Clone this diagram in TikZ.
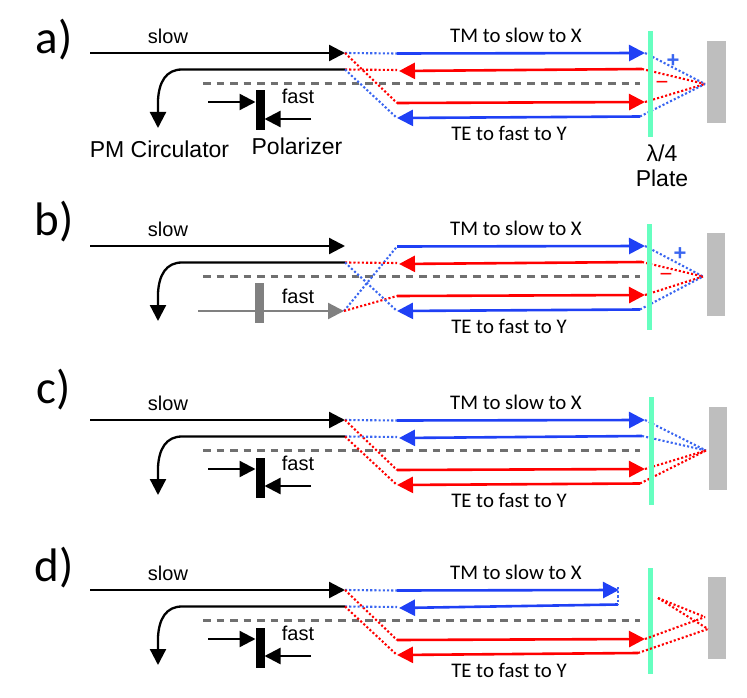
\documentclass[tikz,border=0pt]{standalone}
\usepackage{fontspec}
\setmainfont{Liberation Sans}
\newfontfamily\letterfont{Carlito}
\usetikzlibrary{arrows.meta,calc}
\definecolor{bbeam}{HTML}{1F40F5}
\definecolor{bdot}{HTML}{3A66F0}
\definecolor{rbeam}{HTML}{FF0000}
\definecolor{platec}{HTML}{66FFC0}
\definecolor{mirrorc}{HTML}{BEBEBE}
\definecolor{dashc}{HTML}{707070}
\definecolor{polgray}{HTML}{808080}
\tikzset{
  x=1pt,y=-1pt,
  tip/.style={-{Triangle[length=16pt,width=16pt]}},
  blk/.style={draw=black,line width=2.3pt},
  gry/.style={draw=polgray,line width=2.3pt},
  blu/.style={draw=bbeam,line width=2.6pt},
  rd/.style={draw=rbeam,line width=2.6pt},
  bdots/.style={draw=bdot,line width=2.1pt,dash pattern=on 2.1pt off 2.1pt},
  rdots/.style={draw=rbeam,line width=2.1pt,dash pattern=on 2.1pt off 2.1pt},
  axisline/.style={draw=dashc,line width=3.2pt,dash pattern=on 7.5pt off 6pt},
  lab/.style={inner sep=0pt,font=\fontsize{20}{20}\selectfont},
  beamlab/.style={inner sep=0pt,font=\letterfont\fontsize{20.8}{21}\selectfont},
  biglab/.style={inner sep=0pt,font=\fontsize{23}{23}\selectfont},
  letter/.style={inner sep=0pt,font=\letterfont\fontsize{47}{47}\selectfont},
  platebar/.style={fill=platec,draw=none,minimum width=5pt,inner sep=0pt,outer sep=0pt},
  mirror/.style={fill=mirrorc,draw=none,inner sep=0pt,outer sep=0pt,minimum width=18.5pt,minimum height=82.5pt},
  polbar/.style={draw=none,inner sep=0pt,outer sep=0pt,minimum width=9pt,minimum height=40pt},
  plussign/.style={inner sep=0pt,font=\bfseries\fontsize{22}{22}\selectfont},
  minussign/.style={inner sep=0pt,font=\fontsize{22}{22}\selectfont},
}
% shared coordinates of one panel, written for panel a and shifted by the scope
\newcommand\panelcoords{%
  \coordinate (in0) at (90,53);
  \coordinate (split) at (345,53);
  \coordinate (backend) at (345,69.5);
  \coordinate (curveend) at (182,69.5);
  \coordinate (down) at (158,128);
  \coordinate (dash0) at (203,83.5);
  \coordinate (dash1) at (640,83.5);
  \coordinate (tmA) at (397,53.5);
  \coordinate (tmB) at (645,53);
  \coordinate (rbA) at (642,69);
  \coordinate (rbB) at (399,71);
  \coordinate (rbC) at (397,70);
  \coordinate (roA) at (397,103);
  \coordinate (roB) at (645,102);
  \coordinate (teA) at (640,116.5);
  \coordinate (teB) at (397,118);
}
\newcommand\slowpart[1]{%
  \node[lab] (#1slow) at (168,36) {slow};
  \node[beamlab] (#1tm) at (516,35.5) {TM to slow to X};
  \node[beamlab] (#1te) at (509,133.5) {TE to fast to Y};
  \draw[blk,tip] (in0) -- (split);
  \draw[blk,tip] (backend) -- (curveend) .. controls ($(curveend)+(-16,0)$) and ($(down)+(1,-46)$) .. ($(down)+(0,-28)$) -- (down);
  \draw[axisline] (dash0) -- (dash1);
}
\newcommand\polarizer[1]{%
  \node[polbar,fill=black] (#1bar) at (260,110.5) {};
  \node[lab] (#1fast) at (298,96.5) {fast};
  \coordinate (#1l) at (208,102);
  \coordinate (#1r) at (311,119);
  \draw[blk,tip] (#1l) -- (#1bar.west |- #1l);
  \draw[blk,tip] (#1r) -- (#1bar.east |- #1r);
}
\begin{document}
\begin{tikzpicture}
\useasboundingbox (0,0) rectangle (747,698);
% ---------- a
\node[letter] (la) at (54,40) {a)};
\begin{scope}
  \panelcoords
  \coordinate (apex) at (705,84);
  \slowpart{a}
  \polarizer{a}
  \node[biglab] (apm) at (159.5,149) {PM Circulator};
  \node[biglab] (apol) at (297,146) {Polarizer};
  \draw[bdots] (split) -- (tmA);
  \draw[rdots] (split) -- (roA);
  \draw[rdots] (backend) -- (rbC);
  \draw[bdots] (backend) -- (teB);
  \draw[blu,tip] (tmA) -- (tmB);
  \draw[rd,tip] (rbA) -- (rbB);
  \draw[rd,tip] (roA) -- (roB);
  \draw[blu,tip] (teA) -- (teB);
  \draw[bdots] (tmB) -- (apex);
  \draw[rdots] (rbA) -- (apex);
  \draw[rdots] (roB) -- (apex);
  \draw[bdots] (teA) -- (apex);
  \node[platebar,minimum height=106pt] (aplate) at (650,84) {};
  \node[mirror] (amirror) at (716.5,82) {};
  \node[plussign,text=bdot] (aplus) at (673,61) {+};
  \node[minussign,text=rbeam] (aminus) at (662,85) {\textminus};
  \node[biglab] (alam) at (662,153) {λ/4};
  \node[biglab] (aplt) at (662,178) {Plate};
\end{scope}
% ---------- b
\node[letter] (lb) at (54,222) {b)};
\begin{scope}[yshift=-193pt]
  \panelcoords
  \coordinate (apex) at (703,83.5);
  \coordinate (gsplit) at (344,118);
  \slowpart{b}
  \node[polbar,fill=polgray] (bbar) at (259,110) {};
  \node[lab] (bfast) at (298,103) {fast};
  \coordinate (bg0) at (198,118);
  \draw[gry,tip] (bg0) -- (gsplit);
  \draw[bdots] (gsplit) -- (tmA);
  \draw[rdots] (gsplit) -- (roA);
  \draw[rdots] (backend) -- (rbC);
  \draw[bdots] (backend) -- (teB);
  \draw[blu,tip] (tmA) -- (tmB);
  \draw[rd,tip] (rbA) -- (rbB);
  \draw[rd,tip] (roA) -- (roB);
  \draw[blu,tip] (teA) -- (teB);
  \draw[bdots] (tmB) -- (apex);
  \draw[rdots] (rbA) -- (apex);
  \draw[rdots] (roB) -- (apex);
  \draw[bdots] (teA) -- (apex);
  \node[platebar,minimum height=106pt] (bplate) at (649,84) {};
  \node[mirror] (bmirror) at (716,81.5) {};
  \node[plussign,text=bdot] (bplus) at (680,61) {+};
  \node[minussign,text=rbeam] (bminus) at (666,84) {\textminus};
\end{scope}
% ---------- c
\node[letter] (lc) at (54,390) {c)};
\begin{scope}[yshift=-367pt]
  \panelcoords
  \coordinate (apex) at (706,83.5);
  \slowpart{c}
  \polarizer{c}
  \draw[bdots] (split) -- (tmA);
  \draw[rdots] (split) -- (roA);
  \draw[bdots] (backend) -- (rbC);
  \draw[rdots] (backend) -- (teB);
  \draw[blu,tip] (tmA) -- (tmB);
  \draw[blu,tip] (rbA) -- (rbB);
  \draw[rd,tip] (roA) -- (roB);
  \draw[rd,tip] (teA) -- (teB);
  \draw[bdots] (tmB) -- (apex);
  \draw[bdots] (rbA) -- (apex);
  \draw[rdots] (roB) -- (apex);
  \draw[rdots] (teA) -- (apex);
  \node[platebar,minimum height=108pt] (cplate) at (651,84) {};
  \node[mirror] (cmirror) at (718,81.5) {};
\end{scope}
% ---------- d
\node[letter] (ld) at (54,568) {d)};
\begin{scope}[yshift=-537pt]
  \panelcoords
  \coordinate (tmB) at (619,53);
  \coordinate (rbA) at (618,67.5);
  \coordinate (stubT) at (618,50);
  \coordinate (foldT) at (658,61);
  \coordinate (foldA) at (705,80);
  \coordinate (foldB) at (708,92);
  \coordinate (teA) at (638,116);
  \slowpart{d}
  \polarizer{d}
  \draw[bdots] (split) -- (tmA);
  \draw[rdots] (split) -- (roA);
  \draw[bdots] (backend) -- (rbC);
  \draw[rdots] (backend) -- (teB);
  \draw[blu,tip] (tmA) -- (tmB);
  \draw[blu,tip] (rbA) -- (rbB);
  \draw[rd,tip] (roA) -- (roB);
  \draw[rd,tip] (teA) -- (teB);
  \draw[bdots] (stubT) -- (rbA);
  \node[platebar,minimum height=106pt] (dplate) at (650,84) {};
  \node[mirror] (dmirror) at (717,81) {};
  \draw[rdots] (roB) -- (foldA);
  \draw[rdots] (teA) -- (foldB);
  \draw[rdots] (foldT) -- (foldA);
  \draw[rdots] (foldT) -- (foldB);
\end{scope}
\end{tikzpicture}
\end{document}
